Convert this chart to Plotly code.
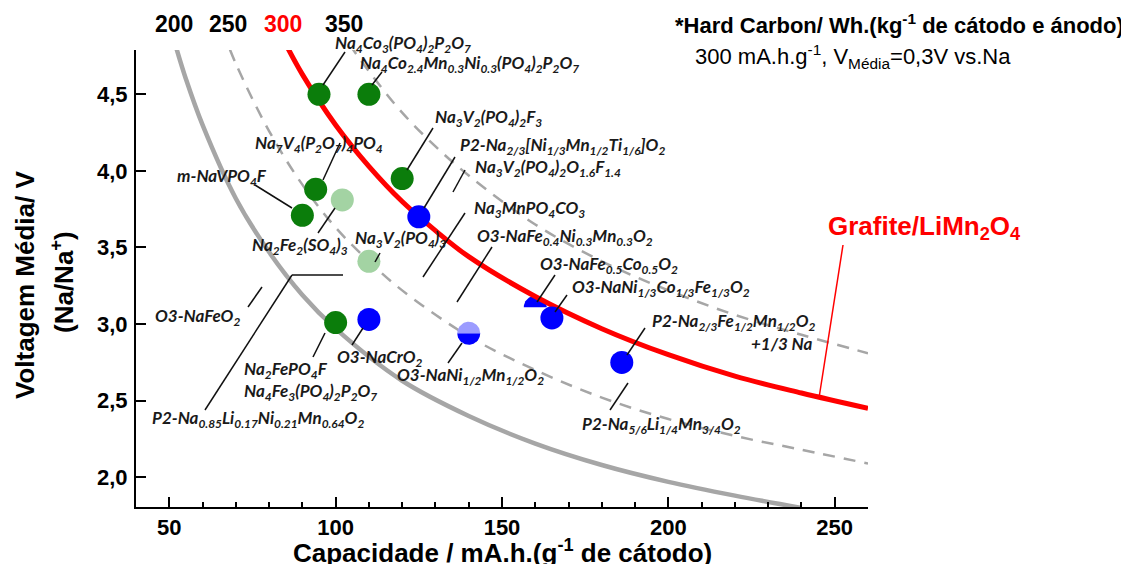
import numpy as np
import plotly.graph_objects as go

# ---------------- data ----------------
# iso-energy curves (Wh per kg of cathode + anode, hard carbon anode)
cap_200 = [52, 55, 60, 70, 80, 90, 100, 120, 140, 160, 180, 200, 220, 240]
v_200 = [4.81, 4.60, 4.30, 3.82, 3.47, 3.19, 2.97, 2.63, 2.40, 2.22, 2.08, 1.97, 1.88, 1.80]
cap_250 = [66, 70, 80, 90, 100, 110, 120, 140, 160, 180, 200, 220, 240, 260]
v_250 = [4.92, 4.70, 4.26, 3.91, 3.63, 3.41, 3.22, 2.92, 2.70, 2.52, 2.38, 2.27, 2.18, 2.09]
cap_300 = [84, 90, 100, 110, 120, 130, 140, 160, 180, 200, 220, 240, 260]
v_300 = [4.87, 4.63, 4.30, 4.03, 3.80, 3.61, 3.44, 3.18, 2.97, 2.80, 2.66, 2.55, 2.45]
cap_350 = [104, 110, 120, 130, 140, 160, 180, 200, 220, 240, 260]
v_350 = [4.83, 4.65, 4.38, 4.16, 3.97, 3.65, 3.41, 3.22, 3.06, 2.93, 2.81]
curve_labels = ["200", "250", "300", "350"]

# materials
dark_green_cap = [95, 110, 120, 94, 90, 100]
dark_green_v = [4.50, 4.50, 3.95, 3.88, 3.71, 3.01]
light_green_cap = [102, 110]
light_green_v = [3.81, 3.41]
blue_cap = [125, 110, 165, 186]
blue_v = [3.70, 3.03, 3.04, 2.75]
half_cap = [160]      # O3-NaFe0.5Co0.5O2 (only upper half visible)
half_v = [3.11]
split_cap = [140]     # O3-NaNi1/2Mn1/2O2 (two-tone)
split_v = [2.94]

x_ticks = [50, 100, 150, 200, 250]
y_ticks = [2.0, 2.5, 3.0, 3.5, 4.0, 4.5]

# ---------------- geometry (image pixel coordinates) ----------------
PAGE_W, PAGE_H = 1129, 564
BODY = 8                       # default page margin around the figure
FIG_W, FIG_H = PAGE_W - BODY, PAGE_H - BODY
L, R, T, B = 136, 868, 50, 507
X_RANGE = [40, 260]
Y_RANGE = [1.806, 4.789]
kx = (R - L) / (X_RANGE[1] - X_RANGE[0])
ky = (B - T) / (Y_RANGE[1] - Y_RANGE[0])


def px(x, y):
    return (x - L) / (R - L), (B - y) / (B - T)


def half_disc(cx, cy, r_px, upper=True, n=48):
    t = np.linspace(0, np.pi, n) if upper else np.linspace(np.pi, 2 * np.pi, n)
    xs = cx + r_px * np.cos(t) / kx
    ys = cy + r_px * np.sin(t) / ky
    return list(xs) + [xs[0]], list(ys) + [ys[0]]


DARK_GREEN = "#0b7d0b"
LIGHT_GREEN = "#a3d3a3"
BLUE = "#0000ff"
LIGHT_BLUE = "#9c9cff"
RED = "#ff0000"
GRAY = "#a6a6a6"
MS = 23

fig = go.Figure()

# semi-circle marker (behind red line)
for cx, cy in zip(half_cap, half_v):
    hx, hy = half_disc(cx, cy, MS / 2, upper=True)
    fig.add_trace(go.Scatter(x=hx, y=hy, mode="lines", fill="toself", fillcolor=BLUE,
                             line=dict(width=0), hoverinfo="skip", showlegend=False))

fig.add_trace(go.Scatter(x=cap_200, y=v_200, mode="lines", line=dict(color=GRAY, width=4.5, shape="spline"),
                         showlegend=False, name=curve_labels[0]))
fig.add_trace(go.Scatter(x=cap_250, y=v_250, mode="lines",
                         line=dict(color=GRAY, width=2.5, dash="12px,9px", shape="spline"),
                         showlegend=False, name=curve_labels[1]))
fig.add_trace(go.Scatter(x=cap_350, y=v_350, mode="lines",
                         line=dict(color=GRAY, width=2.5, dash="12px,9px", shape="spline"),
                         showlegend=False, name=curve_labels[3]))
fig.add_trace(go.Scatter(x=cap_300, y=v_300, mode="lines", line=dict(color=RED, width=5, shape="spline"),
                         showlegend=False, name=curve_labels[2]))

fig.add_trace(go.Scatter(x=dark_green_cap, y=dark_green_v, mode="markers",
                         marker=dict(size=MS, color=DARK_GREEN, line=dict(width=0)), showlegend=False))
fig.add_trace(go.Scatter(x=light_green_cap, y=light_green_v, mode="markers",
                         marker=dict(size=MS, color=LIGHT_GREEN, line=dict(width=0)), showlegend=False))
fig.add_trace(go.Scatter(x=blue_cap, y=blue_v, mode="markers",
                         marker=dict(size=MS, color=BLUE, line=dict(width=0)), showlegend=False))
for cx, cy in zip(split_cap, split_v):
    for upper, col in ((False, BLUE), (True, LIGHT_BLUE)):
        hx, hy = half_disc(cx, cy, MS / 2, upper=upper)
        fig.add_trace(go.Scatter(x=hx, y=hy, mode="lines", fill="toself", fillcolor=col,
                                 line=dict(width=0), hoverinfo="skip", showlegend=False))

# ---------------- annotations ----------------
annotations = []
LAB_FONT = dict(family="Lato", size=17, color="#1a1a1a", weight="bold", style="italic")


def lab(text, x, y, xanchor="left", font=None, **kw):
    fx, fy = px(x, y)
    annotations.append(dict(text=text, x=fx, y=fy, xref="paper", yref="paper",
                            xanchor=xanchor, yanchor="middle", showarrow=False,
                            font=font or LAB_FONT, **kw))


labels = [
    ("Na<sub>4</sub>Co<sub>3</sub>(PO<sub>4</sub>)<sub>2</sub>P<sub>2</sub>O<sub>7</sub>", 333, 44),
    ("Na<sub>4</sub>Co<sub>2.4</sub>Mn<sub>0.3</sub>Ni<sub>0.3</sub>(PO<sub>4</sub>)<sub>2</sub>P<sub>2</sub>O<sub>7</sub>", 358, 64),
    ("Na<sub>3</sub>V<sub>2</sub>(PO<sub>4</sub>)<sub>2</sub>F<sub>3</sub>", 433, 118),
    ("Na<sub>7</sub>V<sub>4</sub>(P<sub>2</sub>O<sub>7</sub>)<sub>4</sub>PO<sub>4</sub>", 253, 144),
    ("P2-Na<sub>2/3</sub>[Ni<sub>1/3</sub>Mn<sub>1/2</sub>Ti<sub>1/6</sub>]O<sub>2</sub>", 458, 146),
    ("Na<sub>3</sub>V<sub>2</sub>(PO<sub>4</sub>)<sub>2</sub>O<sub>1.6</sub>F<sub>1.4</sub>", 473, 168),
    ("m-NaVPO<sub>4</sub>F", 175, 177),
    ("Na<sub>3</sub>MnPO<sub>4</sub>CO<sub>3</sub>", 472, 209),
    ("Na<sub>3</sub>V<sub>2</sub>(PO<sub>4</sub>)<sub>3</sub>", 353, 239),
    ("O3-NaFe<sub>0.4</sub>Ni<sub>0.3</sub>Mn<sub>0.3</sub>O<sub>2</sub>", 475, 237),
    ("Na<sub>2</sub>Fe<sub>2</sub>(SO<sub>4</sub>)<sub>3</sub>", 250, 246),
    ("O3-NaFe<sub>0.5</sub>Co<sub>0.5</sub>O<sub>2</sub>", 538, 265),
    ("O3-NaNi<sub>1/3</sub>Co<sub>1/3</sub>Fe<sub>1/3</sub>O<sub>2</sub>", 570, 288),
    ("O3-NaFeO<sub>2</sub>", 153, 317),
    ("P2-Na<sub>2/3</sub>Fe<sub>1/2</sub>Mn<sub>1/2</sub>O<sub>2</sub>", 650, 322),
    ("O3-NaCrO<sub>2</sub>", 335, 358),
    ("Na<sub>2</sub>FePO<sub>4</sub>F", 242, 370),
    ("O3-NaNi<sub>1/2</sub>Mn<sub>1/2</sub>O<sub>2</sub>", 395, 376),
    ("Na<sub>4</sub>Fe<sub>3</sub>(PO<sub>4</sub>)<sub>2</sub>P<sub>2</sub>O<sub>7</sub>", 242, 392),
    ("P2-Na<sub>0.85</sub>Li<sub>0.17</sub>Ni<sub>0.21</sub>Mn<sub>0.64</sub>O<sub>2</sub>", 150, 419),
    ("P2-Na<sub>5/6</sub>Li<sub>1/4</sub>Mn<sub>3/4</sub>O<sub>2</sub>", 580, 425),
]
for t, x, y in labels:
    lab(t, x, y)
lab("+1/3 Na", 815, 343, xanchor="right")

# leader lines (image pixel coordinates)
leaders = [
    [(345, 52), (323, 85)],
    [(382, 72), (372, 85)],
    [(433, 128), (407, 170)],
    [(340, 143), (323, 180)],
    [(455, 157), (424, 208)],
    [(465, 170), (453, 192)],
    [(255, 185), (292, 208)],
    [(335, 208), (318, 233)],
    [(380, 253), (375, 262)],
    [(465, 213), (423, 277)],
    [(492, 247), (457, 302)],
    [(555, 275), (537, 302)],
    [(567, 295), (555, 312)],
    [(262, 287), (248, 307)],
    [(352, 345), (363, 328)],
    [(325, 333), (313, 357)],
    [(645, 328), (627, 355)],
    [(462, 343), (448, 363)],
    [(628, 383), (610, 410)],
    [(205, 410), (292, 275), (343, 275)],
]
shapes = []
for pts in leaders:
    for (x0, y0), (x1, y1) in zip(pts[:-1], pts[1:]):
        a0, b0 = px(x0, y0)
        a1, b1 = px(x1, y1)
        shapes.append(dict(type="line", xref="paper", yref="paper", x0=a0, y0=b0, x1=a1, y1=b1,
                           line=dict(color="#111111", width=1.5)))
a0, b0 = px(843, 245)
a1, b1 = px(819, 398)
shapes.append(dict(type="line", xref="paper", yref="paper", x0=a0, y0=b0, x1=a1, y1=b1,
                   line=dict(color=RED, width=1.5)))

ARIAL_B = dict(family="Liberation Sans", weight="bold")
lab("Grafite/LiMn<sub>2</sub>O<sub>4</sub>", 924, 227, xanchor="center",
    font=dict(**ARIAL_B, size=26, color=RED))

for txt, x, col in zip(curve_labels, [174, 228, 283, 344], ["black", "black", RED, "black"]):
    lab(txt, x, 24, xanchor="center", font=dict(**ARIAL_B, size=23, color=col))

lab("*Hard Carbon/ Wh.(kg<sup>-1</sup> de cátodo e ánodo)", 1126, 24, xanchor="right",
    font=dict(**ARIAL_B, size=22, color="black"))
lab("300 mA.h.g<sup>-1</sup>, V<sub>Média</sub>=0,3V vs.Na", 693, 56, xanchor="left",
    font=dict(family="Liberation Sans", size=22, color="black"))

lab("Capacidade / mA.h.(g<sup>-1</sup> de cátodo)", 502, 551, xanchor="center",
    font=dict(**ARIAL_B, size=26, color="black"))
lab("Voltagem Média/ V", 25, 285, xanchor="center", textangle=-90,
    font=dict(**ARIAL_B, size=26, color="black"))
lab("(Na/Na<sup>+</sup>)", 62, 282, xanchor="center", textangle=-90,
    font=dict(**ARIAL_B, size=26, color="black"))

fig.update_layout(
    width=FIG_W, height=FIG_H,
    margin=dict(l=L - BODY, r=PAGE_W - R, t=T - BODY, b=PAGE_H - B, pad=0),
    paper_bgcolor="white", plot_bgcolor="white",
    separators=",.",
    font=dict(family="Liberation Sans", color="black"),
    annotations=annotations, shapes=shapes,
    showlegend=False,
    xaxis=dict(range=X_RANGE, tickvals=x_ticks, ticks="inside", ticklen=10, tickwidth=2,
               tickcolor="black", showline=True, linewidth=2, linecolor="black",
               showgrid=False, zeroline=False, ticklabelstandoff=0,
               tickfont=dict(family="Liberation Sans", size=22, weight="bold", color="black"),
               minor=dict(dtick=10, tick0=40, ticks="inside", ticklen=5, tickwidth=2, tickcolor="black",
                          showgrid=False)),
    yaxis=dict(range=Y_RANGE, tickvals=y_ticks, tickformat=".1f", ticks="inside", ticklen=10, tickwidth=2,
               tickcolor="black", showline=True, linewidth=2, linecolor="black",
               showgrid=False, zeroline=False, ticklabelstandoff=2,
               tickfont=dict(family="Liberation Sans", size=22, weight="bold", color="black")),
)

fig.write_html("out.html")
